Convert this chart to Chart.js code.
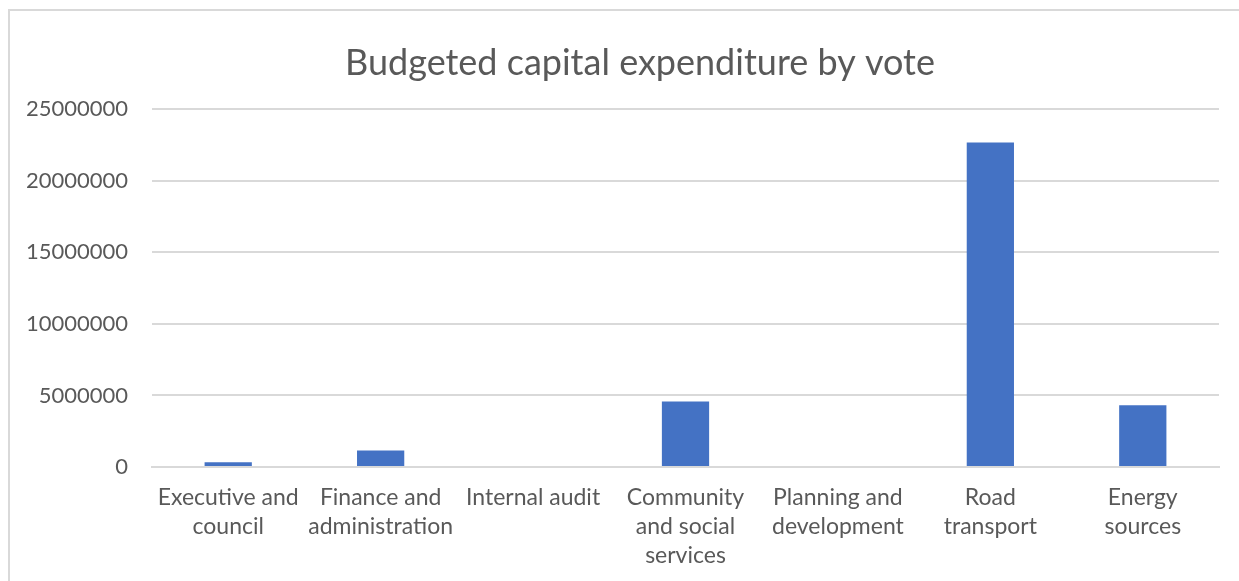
<!DOCTYPE html>
<html>
<head>
<meta charset="utf-8">
<title>Budgeted capital expenditure by vote</title>
<script src="https://cdn.jsdelivr.net/npm/chart.js@4/dist/chart.umd.min.js"></script>
<style>
  html, body { margin: 0; padding: 0; background: #fff; }
  #wrap { position: relative; width: 1239px; height: 581px; overflow: hidden; }
  #frame {
    position: absolute; left: 8px; top: 9px; right: -4px; bottom: -4px;
    border: 2px solid #d9d9d9;
  }
  canvas { position: absolute; left: 0; top: 0; }
</style>
</head>
<body>
<div id="wrap">
  <div id="frame"></div>
  <!-- canvas runs a little past the right edge so the title centres on the frame -->
  <canvas id="chart" width="1253" height="581"></canvas>
</div>
<script>
const categories = [
  ['Executive and', 'council'],
  ['Finance and', 'administration'],
  'Internal audit',
  ['Community', 'and social', 'services'],
  ['Planning and', 'development'],
  ['Road', 'transport'],
  ['Energy', 'sources']
]
const budget = [330000, 1150000, 0, 4570000, 0, 22680000, 4310000]
const yTicks = [0, 5000000, 10000000, 15000000, 20000000, 25000000]

const textColor = '#595959'
const gridColor = '#d9d9d9'
const fontFamily = 'Lato, "Noto Sans", sans-serif'

new Chart(document.getElementById('chart'), {
  type: 'bar',
  data: {
    labels: categories,
    datasets: [{
      label: 'Budget',
      data: budget,
      backgroundColor: '#4472c4',
      borderWidth: 0,
      barPercentage: 0.31,
      categoryPercentage: 1
    }]
  },
  options: {
    responsive: false,
    animation: false,
    layout: {
      padding: { left: 27, right: 0, top: 10, bottom: 0 }
    },
    plugins: {
      legend: { display: false },
      tooltip: { enabled: false },
      title: {
        display: true,
        text: 'Budgeted capital expenditure by vote',
        color: textColor,
        font: { family: fontFamily, size: 36, weight: 'normal' },
        padding: { top: 32, bottom: 24 }
      }
    },
    scales: {
      x: {
        grid: { display: false },
        border: { display: true, color: gridColor, width: 2 },
        ticks: {
          color: textColor,
          font: { family: fontFamily, size: 23, lineHeight: 1.26 },
          maxRotation: 0,
          autoSkip: false,
          padding: 8
        },
        afterFit: (scale) => { scale.height = 114 }
      },
      y: {
        min: 0,
        max: 25000000,
        afterBuildTicks: (scale) => {
          scale.ticks = yTicks.map(v => ({ value: v }))
        },
        grid: { color: gridColor, lineWidth: 2, drawTicks: false },
        border: { display: false },
        ticks: {
          color: textColor,
          font: { family: fontFamily, size: 22 },
          padding: 24,
          callback: (v) => String(v)
        },
        afterFit: (scale) => { scale.width = 125 }
      },
      // empty right-hand spacer so the plot stops short of the edge
      spacer: {
        position: 'right',
        grid: { display: false },
        border: { display: false },
        ticks: { display: false },
        afterFit: (scale) => { scale.width = 34 }
      }
    }
  }
})
</script>
</body>
</html>
